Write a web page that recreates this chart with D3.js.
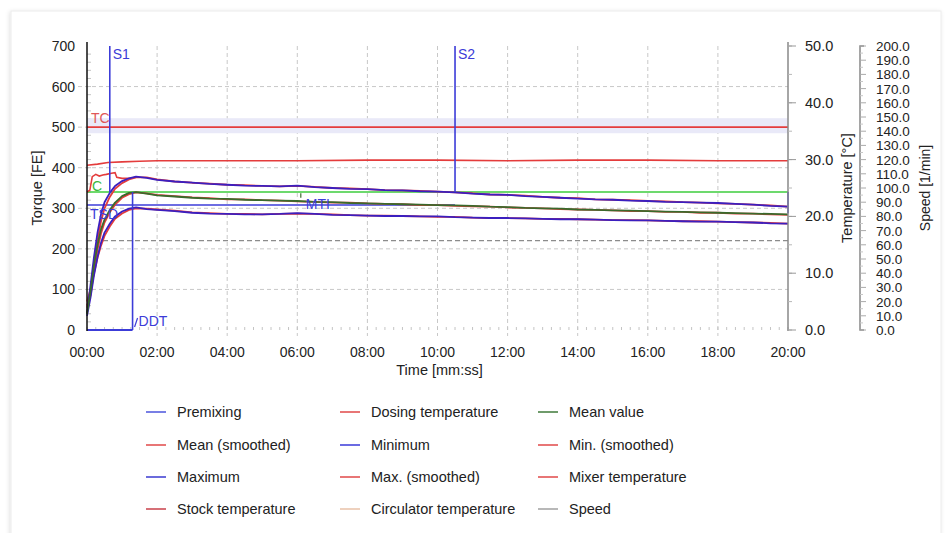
<!DOCTYPE html>
<html>
<head>
<meta charset="utf-8">
<script src="https://cdn.jsdelivr.net/npm/d3@7"></script>
<style>
  html, body { margin: 0; padding: 0; background: #fff; }
  svg { display: block; font-family: "Liberation Sans", Arial, sans-serif; }
</style>
</head>
<body>
<div id="chart"></div>
<script>
// time in minutes
const timeMin = [0, 0.1, 0.2, 0.3, 0.4, 0.5, 0.65, 0.8, 1.0, 1.2, 1.4, 1.7, 2,
  2.5, 3, 3.5, 4, 4.5, 5, 5.5, 6, 6.5, 7, 7.5, 8, 8.5, 9, 9.5, 10, 10.5, 11, 11.5, 12,
  12.5, 13, 13.5, 14, 14.5, 15, 15.5, 16, 16.5, 17, 17.5, 18, 18.5, 19, 19.5, 20];

// torque [FE]
const maxTorque = [42, 110, 180, 240, 285, 315, 338, 355, 367, 374, 378, 375, 370,
  366, 363, 360, 358, 356, 355, 354, 356, 352, 350, 348, 347, 345, 344, 342, 341, 339, 336, 334, 333,
  330, 328, 326, 324, 322, 321, 319, 318, 316, 315, 314, 313, 311, 309, 306, 304];
const maxSmoothed = [55, 95, 160, 220, 268, 300, 328, 348, 362, 371, 376, 376, 371,
  366, 363, 361, 358, 357, 355, 354, 355, 353, 350, 349, 347, 345, 344, 343, 341, 339, 337, 334, 333,
  331, 328, 326, 325, 322, 321, 320, 318, 317, 315, 314, 312, 311, 309, 307, 304];
const meanTorque = [40, 95, 160, 210, 248, 272, 296, 314, 330, 338, 340, 336, 332,
  329, 326, 324, 323, 321, 320, 319, 318, 316, 315, 313, 312, 311, 310, 309, 308, 307, 306, 304, 303,
  301, 300, 299, 297, 296, 295, 294, 293, 292, 291, 290, 289, 288, 287, 286, 285];
const meanSmoothed = [60, 85, 145, 198, 238, 265, 290, 309, 326, 335, 339, 337, 333,
  330, 327, 325, 322, 322, 320, 319, 317, 316, 314, 314, 312, 311, 310, 308, 308, 306, 305, 304, 302,
  301, 300, 298, 297, 296, 295, 293, 293, 291, 291, 289, 289, 287, 287, 285, 284];
const minTorque = [35, 80, 135, 180, 215, 240, 262, 280, 292, 299, 302, 298, 296,
  293, 289, 287, 286, 285, 285, 286, 288, 286, 284, 283, 282, 281, 281, 280, 280, 278, 277, 276, 276,
  275, 274, 273, 273, 272, 271, 270, 270, 269, 268, 267, 267, 266, 265, 263, 262];
const minSmoothed = [70, 100, 140, 178, 208, 232, 255, 274, 287, 296, 300, 299, 297,
  294, 290, 288, 286, 286, 285, 286, 287, 286, 285, 283, 282, 282, 281, 280, 279, 279, 277, 276, 276,
  275, 274, 274, 273, 272, 271, 271, 270, 269, 268, 268, 267, 266, 265, 264, 262];

// temperatures [°C]
const dosingTime = [0, 0.08, 0.15, 0.25, 0.35, 0.45, 0.55, 0.7, 0.8, 0.85, 1.0, 1.2, 1.4];
const dosingTemp = [24.3, 24.6, 27.0, 27.4, 27.1, 27.3, 27.4, 27.6, 27.7, 26.9, 26.7, 26.7, 26.9];
const mixerTime = [0, 0.3, 0.6, 1, 1.5, 2, 4, 6, 8, 10, 12, 14, 16, 18, 20];
const mixerTemp = [29.0, 29.2, 29.5, 29.6, 29.7, 29.8, 29.8, 29.8, 29.9, 29.9, 29.8, 29.9, 29.9, 29.8, 29.8];

// speed [1/min]
const speedTime = [0, 20];
const speedValues = [63, 63];

// evaluation markers
const s1Time = 0.65, s2Time = 10.5, ddtTime = 1.3, mtiTime = 6.1;
const tcValue = 500, tcBand = [485, 522];
const cValue = 340, tsdValue = 308, endTorque = 288;

const xTicks = [0, 2, 4, 6, 8, 10, 12, 14, 16, 18, 20];
const torqueTicks = [0, 100, 200, 300, 400, 500, 600, 700];
const tempTicks = [0, 10, 20, 30, 40, 50];
const speedTicks = d3.range(0, 201, 10);

const legendItems = [
  ["Premixing", "#4b55dc"], ["Dosing temperature", "#e04848"], ["Mean value", "#3f7a3a"],
  ["Mean (smoothed)", "#e04848"], ["Minimum", "#3a3ad8"], ["Min. (smoothed)", "#e04848"],
  ["Maximum", "#3a3ad0"], ["Max. (smoothed)", "#e04848"], ["Mixer temperature", "#e04848"],
  ["Stock temperature", "#c8404a"], ["Circulator temperature", "#e8c2a8"], ["Speed", "#a0a0a0"]
];

const W = 952, H = 533;
const plot = {left: 87, right: 788, top: 46, bottom: 330};
const blue = "#3c3cd8", purple = "#3b1fbf", red = "#e43c3c", green = "#3ccc3c", darkGreen = "#3a6a2c";
const ink = "#222";

const svg = d3.select("#chart").append("svg").attr("width", W).attr("height", H);

// card frame
const defs = svg.append("defs");
const shadow = defs.append("filter").attr("id", "shadow").attr("x", "-5%").attr("y", "-5%")
  .attr("width", "110%").attr("height", "110%");
shadow.append("feDropShadow").attr("dx", -1).attr("dy", 1).attr("stdDeviation", 2)
  .attr("flood-color", "#000").attr("flood-opacity", 0.12);
svg.append("rect").attr("x", 11).attr("y", 11).attr("width", 930).attr("height", 530)
  .attr("fill", "#fff").attr("stroke", "#ececec").attr("filter", "url(#shadow)");

const x = d3.scaleLinear().domain([0, 20]).range([plot.left, plot.right]);
const y = d3.scaleLinear().domain([0, 700]).range([plot.bottom, plot.top]);
const yTemp = d3.scaleLinear().domain([0, 50]).range([plot.bottom, plot.top]);
const ySpeed = d3.scaleLinear().domain([0, 200]).range([plot.bottom, plot.top]);

// grid
const grid = svg.append("g").attr("stroke", "#c8c8c8").attr("stroke-width", 1).attr("stroke-dasharray", "4,3");
grid.selectAll(".v").data(xTicks.filter(d => d > 0 && d < 20)).join("line")
  .attr("x1", d => x(d)).attr("x2", d => x(d)).attr("y1", plot.top).attr("y2", plot.bottom + 6);
grid.selectAll(".h").data(torqueTicks.filter(d => d > 0 && d < 700)).join("line")
  .attr("x1", plot.left - 9).attr("x2", plot.right).attr("y1", d => y(d)).attr("y2", d => y(d));

// minor ticks
const minor = svg.append("g").attr("stroke", "#c4c4c4").attr("stroke-width", 1);
minor.selectAll(".mx").data(d3.range(0, 20.01, 0.25)).join("line")
  .attr("x1", d => x(d)).attr("x2", d => x(d)).attr("y1", plot.bottom).attr("y2", plot.bottom - 3);
minor.selectAll(".my").data(d3.range(20, 700, 20)).join("line")
  .attr("x1", plot.left).attr("x2", plot.left + 4).attr("y1", d => y(d)).attr("y2", d => y(d));

// tolerance band around TC
svg.append("rect").attr("x", plot.left).attr("width", plot.right - plot.left)
  .attr("y", y(tcBand[1])).attr("height", y(tcBand[0]) - y(tcBand[1]))
  .attr("fill", "#e9e9f8");

// speed
const line = (xs, ys, scale) => d3.line().x((d, i) => x(xs[i])).y(d => scale(d))(ys);
svg.append("path").attr("d", line(speedTime, speedValues, ySpeed))
  .attr("fill", "none").attr("stroke", "#8c8c8c").attr("stroke-width", 1.2).attr("stroke-dasharray", "5,3");

// horizontal evaluation lines
svg.append("line").attr("x1", x(0)).attr("x2", x(20)).attr("y1", y(tcValue)).attr("y2", y(tcValue))
  .attr("stroke", red).attr("stroke-width", 1.6);
svg.append("line").attr("x1", x(0)).attr("x2", x(20)).attr("y1", y(cValue)).attr("y2", y(cValue))
  .attr("stroke", green).attr("stroke-width", 1.6);
svg.append("line").attr("x1", x(0)).attr("x2", x(s2Time)).attr("y1", y(tsdValue)).attr("y2", y(tsdValue))
  .attr("stroke", blue).attr("stroke-width", 1.6);

// temperatures
svg.append("path").attr("d", line(mixerTime, mixerTemp, yTemp))
  .attr("fill", "none").attr("stroke", red).attr("stroke-width", 1.6);
svg.append("path").attr("d", line(dosingTime, dosingTemp, yTemp))
  .attr("fill", "none").attr("stroke", red).attr("stroke-width", 1.6);

// torque curves
const curves = [
  [minSmoothed, red], [maxSmoothed, red], [meanSmoothed, red],
  [minTorque, purple], [maxTorque, purple], [meanTorque, darkGreen]
];
curves.forEach(([values, color]) => {
  svg.append("path").attr("d", line(timeMin, values, y))
    .attr("fill", "none").attr("stroke", color).attr("stroke-width", 1.8)
    .attr("stroke-linejoin", "round");
});

// vertical markers
const marker = (t, v0, v1) => svg.append("line")
  .attr("x1", x(t)).attr("x2", x(t)).attr("y1", y(v0)).attr("y2", y(v1))
  .attr("stroke", blue).attr("stroke-width", 1.6);
marker(s1Time, 700, 338);
marker(s2Time, 700, cValue);
marker(ddtTime, 0, cValue);
marker(20, cValue, endTorque);
svg.append("line").attr("x1", x(0)).attr("x2", x(ddtTime)).attr("y1", y(0)).attr("y2", y(0))
  .attr("stroke", blue).attr("stroke-width", 2);
svg.append("line").attr("x1", x(mtiTime)).attr("x2", x(mtiTime)).attr("y1", y(337)).attr("y2", y(326))
  .attr("stroke", darkGreen).attr("stroke-width", 1.2);
svg.append("line").attr("x1", x(ddtTime) + 2).attr("x2", x(ddtTime) + 5).attr("y1", y(0) - 3).attr("y2", y(0) - 12)
  .attr("stroke", blue).attr("stroke-width", 1.2);

const label = (text, px, py, color) => svg.append("text").attr("x", px).attr("y", py)
  .attr("fill", color).attr("font-size", 14).text(text);
label("S1", x(s1Time) + 3, 59, blue);
label("S2", x(s2Time) + 3, 59, blue);
label("TC", x(0) + 4, 123, "#e05858");
label("C", x(0) + 5, 191, "#3cb83c");
label("TSD", x(0) + 3, 219, blue);
label("MTI", x(mtiTime) + 5, 209, blue);
label("DDT", x(ddtTime) + 6, 326, blue);

// left axis
svg.append("line").attr("x1", plot.left).attr("x2", plot.left).attr("y1", plot.top - 4).attr("y2", plot.bottom + 1)
  .attr("stroke", "#111").attr("stroke-width", 1.5);
svg.append("g").selectAll("text").data(torqueTicks).join("text")
  .attr("x", plot.left - 12).attr("y", d => y(d) + 5).attr("text-anchor", "end")
  .attr("font-size", 14).attr("fill", ink).text(d => d);
svg.append("text").attr("transform", `translate(42,${(plot.top + plot.bottom) / 2}) rotate(-90)`)
  .attr("text-anchor", "middle").attr("font-size", 14.5).attr("fill", ink).text("Torque [FE]");

// bottom axis labels
svg.append("g").selectAll("text").data(xTicks).join("text")
  .attr("x", d => x(d)).attr("y", 357).attr("text-anchor", "middle")
  .attr("font-size", 14).attr("fill", ink).text(d => String(d).padStart(2, "0") + ":00");
svg.append("text").attr("x", (plot.left + plot.right) / 2 + 2).attr("y", 375).attr("text-anchor", "middle")
  .attr("font-size", 14.5).attr("fill", ink).text("Time [mm:ss]");

// temperature axis
const tempAxis = svg.append("g");
tempAxis.append("line").attr("x1", plot.right).attr("x2", plot.right).attr("y1", plot.top - 4).attr("y2", plot.bottom + 1)
  .attr("stroke", "#888").attr("stroke-width", 1.5);
tempAxis.selectAll(".minor").data(d3.range(0, 50.1, 5)).join("line")
  .attr("x1", plot.right).attr("x2", plot.right + 4).attr("y1", d => yTemp(d)).attr("y2", d => yTemp(d))
  .attr("stroke", "#b8b8b8");
tempAxis.selectAll(".major").data(tempTicks).join("line")
  .attr("x1", plot.right).attr("x2", plot.right + 8).attr("y1", d => yTemp(d)).attr("y2", d => yTemp(d))
  .attr("stroke", "#999");
tempAxis.selectAll("text").data(tempTicks).join("text")
  .attr("x", 805).attr("y", d => yTemp(d) + 5).attr("font-size", 14.5).attr("fill", ink)
  .text(d => d.toFixed(1));
svg.append("text").attr("transform", `translate(852,${(plot.top + plot.bottom) / 2}) rotate(-90)`)
  .attr("text-anchor", "middle").attr("font-size", 14.5).attr("fill", ink).text("Temperature [°C]");

// speed axis
const speedX = 860;
const speedAxis = svg.append("g").attr("stroke", "#888");
speedAxis.append("path")
  .attr("d", `M${speedX + 4},${plot.top} H${speedX} V${plot.bottom} H${speedX + 4}`)
  .attr("fill", "none").attr("stroke-width", 1.5);
speedAxis.selectAll(".minor").data(d3.range(5, 200, 10)).join("line")
  .attr("x1", speedX).attr("x2", speedX + 3).attr("y1", d => ySpeed(d)).attr("y2", d => ySpeed(d))
  .attr("stroke", "#c8c8c8");
speedAxis.selectAll(".major").data(speedTicks).join("line")
  .attr("x1", speedX).attr("x2", speedX + 6).attr("y1", d => ySpeed(d)).attr("y2", d => ySpeed(d))
  .attr("stroke", "#aaa");
svg.append("g").selectAll("text").data(speedTicks).join("text")
  .attr("x", 876).attr("y", d => ySpeed(d) + 5).attr("font-size", 13.5).attr("fill", ink)
  .text(d => d.toFixed(1));
svg.append("text").attr("transform", `translate(930,${(plot.top + plot.bottom) / 2}) rotate(-90)`)
  .attr("text-anchor", "middle").attr("font-size", 14).attr("fill", ink).text("Speed [1/min]");

// legend
const legendCols = [146, 340, 538];
const legendRows = [412, 445, 477, 509];
const legend = svg.append("g").selectAll("g").data(legendItems).join("g")
  .attr("transform", (d, i) => `translate(${legendCols[i % 3]},${legendRows[Math.floor(i / 3)]})`);
legend.append("line").attr("x1", 0).attr("x2", 20).attr("y1", 0).attr("y2", 0)
  .attr("stroke", d => d[1]).attr("stroke-width", 1.5);
legend.append("text").attr("x", 31).attr("y", 5).attr("font-size", 14.5).attr("fill", ink)
  .text(d => d[0]);
</script>
</body>
</html>
